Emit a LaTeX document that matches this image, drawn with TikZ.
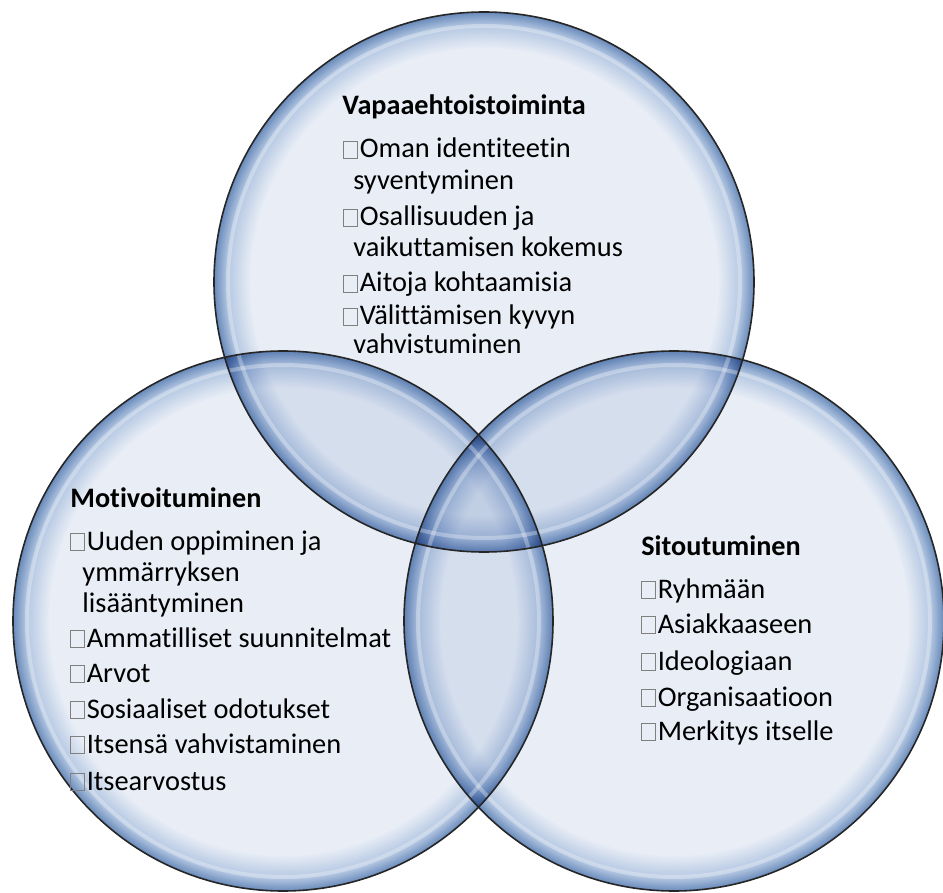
\documentclass[tikz,border=0pt]{standalone}
\usepackage{fontspec}
\setmainfont{Carlito}[Ligatures=NoCommon]
\usepackage{xcolor}
\usepackage{tikz}
\usetikzlibrary{positioning,calc}

\definecolor{bubin}{RGB}{233,238,246}
\definecolor{bubmid}{RGB}{180,199,226}
\definecolor{bubrim}{RGB}{104,138,186}
\pgfdeclareradialshading{bubshade}{\pgfpoint{0bp}{0bp}}{color(0bp)=(bubin); color(21.6bp)=(bubin); color(23.8bp)=(bubmid); color(25bp)=(bubrim); color(50bp)=(bubrim)}

% missing-glyph box in front of each item
\newcommand{\glyphbox}{{\color{gray}\fboxsep=0pt\fboxrule=0.5pt\fbox{\rule{0pt}{8pt}\hspace{6.4pt}}}\kern0.8pt}

\begin{document}
\begin{tikzpicture}[x=0.5pt,y=-0.5pt,
    bubble/.style={shading=bubshade},
    gloss/.style={draw=white, line width=2pt, draw opacity=0.3},
    rim/.style={draw=black!85, line width=0.8pt},
    txt/.style={anchor=base west, inner sep=0pt, font=\fontsize{14.2}{16}\selectfont},
    head/.style={txt, font=\fontsize{14.1}{16}\selectfont\bfseries}]
    \useasboundingbox (0,0) rectangle (943,893);

    \coordinate (ctop) at (484,282);
    \coordinate (cleft) at (283,621);
    \coordinate (cright) at (674,621);

    % Bubbles
    \begin{scope}[blend mode=multiply]
        \shade[bubble] (ctop) circle[radius=135pt];
        \shade[bubble] (cleft) circle[radius=135pt];
        \shade[bubble] (cright) circle[radius=135pt];
    \end{scope}
    \draw[gloss] (ctop) circle[radius=128pt];
    \draw[gloss] (cleft) circle[radius=128pt];
    \draw[gloss] (cright) circle[radius=128pt];
    \draw[rim] (ctop) circle[radius=135pt];
    \draw[rim] (cleft) circle[radius=135pt];
    \draw[rim] (cright) circle[radius=135pt];

    % Vapaaehtoistoiminta
    \node[head] (vap) at (342,115) {Vapaaehtoistoiminta};
    \node[txt] (vap1) at (343,158) {\glyphbox Oman identiteetin};
    \node[txt] (vap1b) at (353,190) {syventyminen};
    \node[txt] (vap2) at (343,226) {\glyphbox Osallisuuden ja};
    \node[txt] (vap2b) at (353,257) {vaikuttamisen kokemus};
    \node[txt] (vap3) at (343,292) {\glyphbox Aitoja kohtaamisia};
    \node[txt] (vap4) at (343,325) {\glyphbox Välittämisen kyvyn};
    \node[txt] (vap4b) at (353,354) {vahvistuminen};

    % Motivoituminen
    \node[head] (mot) at (70,507) {Motivoituminen};
    \node[txt] (mot1) at (70,550) {\glyphbox Uuden oppiminen ja};
    \node[txt] (mot1b) at (82,581) {ymmärryksen};
    \node[txt] (mot1c) at (82,612) {lisääntyminen};
    \node[txt] (mot2) at (70,647) {\glyphbox Ammatilliset suunnitelmat};
    \node[txt] (mot3) at (70,682) {\glyphbox Arvot};
    \node[txt] (mot4) at (70,718) {\glyphbox Sosiaaliset odotukset};
    \node[txt] (mot5) at (70,753) {\glyphbox Itsensä vahvistaminen};
    \node[txt] (mot6) at (70,790) {\glyphbox Itsearvostus};

    % Sitoutuminen
    \node[head] (sit) at (641,555) {Sitoutuminen};
    \node[txt] (sit1) at (641,598) {\glyphbox Ryhmään};
    \node[txt] (sit2) at (641,633) {\glyphbox Asiakkaaseen};
    \node[txt] (sit3) at (641,670) {\glyphbox Ideologiaan};
    \node[txt] (sit4) at (641,706) {\glyphbox Organisaatioon};
    \node[txt] (sit5) at (641,740) {\glyphbox Merkitys itselle};
\end{tikzpicture}
\end{document}
